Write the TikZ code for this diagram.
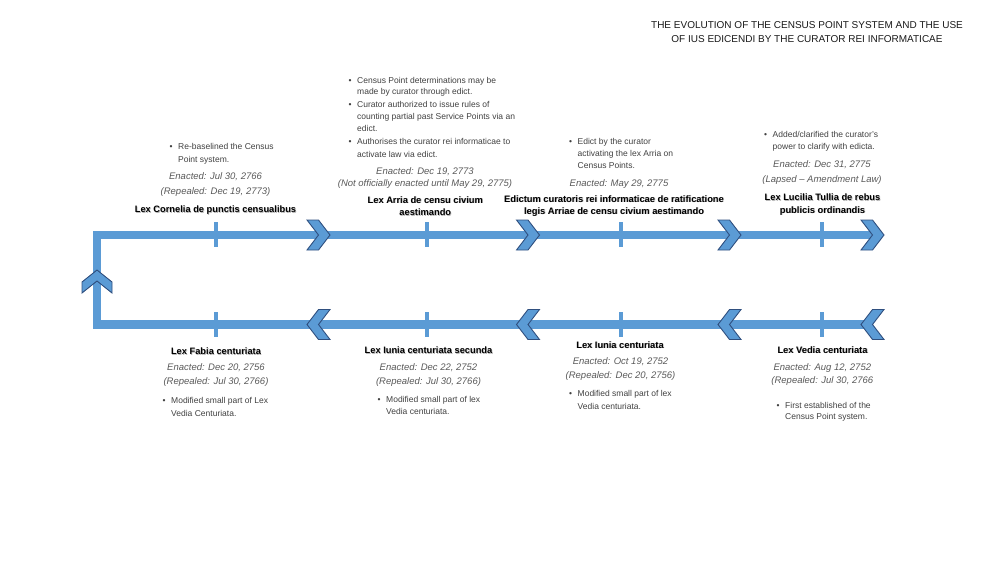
\documentclass[tikz,border=0pt]{standalone}
\usepackage{fontspec}
\setmainfont{Liberation Sans}
\definecolor{barblue}{HTML}{5B9BD5}
\definecolor{chevline}{HTML}{2F4F7F}
\definecolor{bultext}{HTML}{404040}
\definecolor{ittext}{HTML}{595959}
\newcommand\Bu{\makebox[8.5pt][l]{\textbullet}}
\newcommand\Sh[1]{\leavevmode\rlap{\kern0.7pt\raisebox{-0.7pt}{\color{black!28}#1}}#1}
\newcommand\ChevR[2]{\draw[chev] (#1,#2-15) -- (#1+11.5,#2-15) -- (#1+23,#2) -- (#1+11.5,#2+15) -- (#1,#2+15) -- (#1+11.5,#2) -- cycle;}
\newcommand\ChevL[2]{\draw[chev] (#1+23,#2-15) -- (#1+11.5,#2-15) -- (#1,#2) -- (#1+11.5,#2+15) -- (#1+23,#2+15) -- (#1+11.5,#2) -- cycle;}
\tikzset{
 txt/.style={inner sep=0pt, anchor=base, yshift=-3.2pt},
 ttl/.style={txt, font=\fontsize{10}{12}\selectfont, text=black!90},
 bld/.style={txt, font=\fontsize{9.3}{11}\selectfont\bfseries, text=black},
 itl/.style={txt, font=\fontsize{9.5}{11}\selectfont\itshape, text=ittext},
 bul/.style={txt, anchor=base west, font=\fontsize{8.5}{10}\selectfont, text=bultext},
 bar/.style={draw=barblue, line width=8.5pt, line join=miter},
 tickmark/.style={draw=barblue, line width=4pt},
 chev/.style={fill=barblue, draw=chevline, line width=0.9pt, line join=miter},
}
\begin{document}
\begin{tikzpicture}[x=1pt, y=-1pt]
\useasboundingbox (0,0) rectangle (1000,563);
% title
\node[ttl] (t1) at (807,25) {THE EVOLUTION OF THE CENSUS POINT SYSTEM AND THE USE};
\node[ttl] (t2) at (807,39.5) {OF IUS EDICENDI BY THE CURATOR REI INFORMATICAE};
% main bar
\coordinate (tr) at (872,235);
\coordinate (tl) at (97,235);
\coordinate (bl) at (97,324.5);
\coordinate (br) at (872,324.5);
\draw[bar] (tr) -- (tl) -- (bl) -- (br);
% ticks
\foreach \x in {216,427,621,822} {
  \draw[tickmark] (\x,222) -- (\x,247);
  \draw[tickmark] (\x,312) -- (\x,337);
}
% chevrons
\foreach \x in {307,516.5,718,861} { \ChevR{\x}{235} \ChevL{\x}{324.5} }
\draw[chev] (97,270) -- (112,282) -- (112,293) -- (97,281) -- (82,293) -- (82,282) -- cycle;
% Event 1
\node[bul] (a1) at (169.5,146) {\Bu Re-baselined the Census};
\node[bul] (a2) at (178,159.3) {Point system.};
\node[itl] (a3) at (215.5,176.7) {Enacted: Jul 30, 2766};
\node[itl] (a4) at (215.5,191) {(Repealed: Dec 19, 2773)};
\node[bld] (a5) at (215.5,209.3) {\Sh{Lex Cornelia de punctis censualibus}};
% Event 2
\node[bul] (b1) at (348.5,80) {\Bu Census Point determinations may be};
\node[bul] (b2) at (357,91.5) {made by curator through edict.};
\node[bul] (b3) at (348.5,104.3) {\Bu Curator authorized to issue rules of};
\node[bul] (b4) at (357,116.7) {counting partial past Service Points via an};
\node[bul] (b5) at (357,128.3) {edict.};
\node[bul] (b6) at (348.5,141) {\Bu Authorises the curator rei informaticae to};
\node[bul] (b7) at (357,154.3) {activate law via edict.};
\node[itl] (b8) at (425,171) {Enacted: Dec 19, 2773};
\node[itl] (b9) at (425,183.3) {(Not officially enacted until May 29, 2775)};
\node[bld] (b10) at (425.3,200) {\Sh{Lex Arria de censu civium}};
\node[bld] (b11) at (425.3,212.7) {\Sh{aestimando}};
% Event 3
\node[bul] (c1) at (569,141) {\Bu Edict by the curator};
\node[bul] (c2) at (577.5,153.3) {activating the lex Arria on};
\node[bul] (c3) at (577.5,165) {Census Points.};
\node[itl] (c4) at (619,183.3) {Enacted: May 29, 2775};
\node[bld] (c5) at (614,199) {\Sh{Edictum curatoris rei informaticae de ratificatione}};
\node[bld] (c6) at (614,211) {\Sh{legis Arriae de censu civium aestimando}};
% Event 4
\node[bul] (d1) at (764,134) {\Bu Added/clarified the curator's};
\node[bul] (d2) at (772.5,146) {power to clarify with edicta.};
\node[itl] (d3) at (822,164) {Enacted: Dec 31, 2775};
\node[itl] (d4) at (822,179) {(Lapsed – Amendment Law)};
\node[bld] (d5) at (822.5,197.3) {\Sh{Lex Lucilia Tullia de rebus}};
\node[bld] (d6) at (822.5,210) {\Sh{publicis ordinandis}};
% Event 5
\node[bld] (e1) at (216,351.7) {\Sh{Lex Fabia centuriata}};
\node[itl] (e2) at (216,367.7) {Enacted: Dec 20, 2756};
\node[itl] (e3) at (216,381.7) {(Repealed: Jul 30, 2766)};
\node[bul] (e4) at (162.5,400.7) {\Bu Modified small part of Lex};
\node[bul] (e5) at (171,413.3) {Vedia Centuriata.};
% Event 6
\node[bld] (f1) at (428.5,350.7) {\Sh{Lex Iunia centuriata secunda}};
\node[itl] (f2) at (428.5,367.7) {Enacted: Dec 22, 2752};
\node[itl] (f3) at (428.5,381) {(Repealed: Jul 30, 2766)};
\node[bul] (f4) at (377.5,399.3) {\Bu Modified small part of lex};
\node[bul] (f5) at (386,411.7) {Vedia centuriata.};
% Event 7
\node[bld] (g1) at (620,345) {\Sh{Lex Iunia centuriata}};
\node[itl] (g2) at (620.5,361.7) {Enacted: Oct 19, 2752};
\node[itl] (g3) at (620.5,375) {(Repealed: Dec 20, 2756)};
\node[bul] (g4) at (569,393.3) {\Bu Modified small part of lex};
\node[bul] (g5) at (577.5,406) {Vedia centuriata.};
% Event 8
\node[bld] (h1) at (822.5,350) {\Sh{Lex Vedia centuriata}};
\node[itl] (h2) at (822.3,367.3) {Enacted: Aug 12, 2752};
\node[itl] (h3) at (822.3,380.7) {(Repealed: Jul 30, 2766};
\node[bul] (h4) at (776.5,405) {\Bu First established of the};
\node[bul] (h5) at (785,416.7) {Census Point system.};
\end{tikzpicture}
\end{document}
